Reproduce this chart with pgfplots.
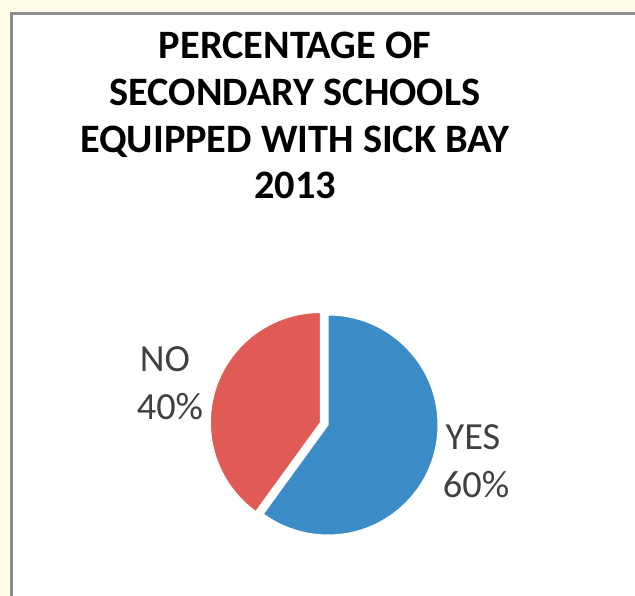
\documentclass[border=0pt]{standalone}
\usepackage{fontspec}
\setmainfont{Carlito}
\usepackage{pgfplots}
\usepackage{pgfplotstable}
\pgfplotsset{compat=1.18}
\definecolor{bgcream}{HTML}{FFFDE8}
\definecolor{framegray}{HTML}{8C8C8C}
\definecolor{pieblue}{HTML}{3A8BC6}
\definecolor{piered}{HTML}{E05B55}
\definecolor{labelgray}{HTML}{404040}
\pgfplotstableread{
label value
YES 60
NO 40
}\piedata
\begin{document}
\begin{tikzpicture}
\pgfplotstablegetelem{0}{value}\of\piedata
\pgfmathsetmacro{\yesend}{90-3.6*\pgfplotsretval}
\pgfplotstablegetelem{1}{value}\of\piedata
\pgfmathsetmacro{\nospan}{3.6*\pgfplotsretval}
\pgfmathsetmacro{\nomid}{90+\nospan/2}
\begin{axis}[hide axis, scale only axis, width=635bp, height=596bp,
  xmin=0, xmax=635, ymin=0, ymax=596, clip=false, at={(0,0)}, anchor=south west]
\fill[bgcream] (axis cs:-5,-5) rectangle (axis cs:640,601);
\fill[white] (axis cs:11,-5) rectangle (axis cs:640,582.5);
\draw[framegray, line width=3bp] (axis cs:11,-10) -- (axis cs:11,582.5) -- (axis cs:650,582.5);
% title
\node[anchor=base, font=\fontsize{40.5}{48}\selectfont\bfseries] at (axis cs:295,537) {PERCENTAGE OF};
\node[anchor=base, font=\fontsize{40.5}{48}\selectfont\bfseries] at (axis cs:295,490.3) {SECONDARY SCHOOLS};
\node[anchor=base, font=\fontsize{40.5}{48}\selectfont\bfseries] at (axis cs:295,443.6) {EQUIPPED WITH SICK BAY};
\node[anchor=base, font=\fontsize{40.5}{48}\selectfont\bfseries] at (axis cs:295,397) {2013};
% pie: YES slice
\fill[pieblue, draw=white, line width=1bp] (axis cs:328,171) -- ++(90:110bp)
   arc[start angle=90, end angle=\yesend, radius=110bp] -- cycle;
% NO slice (exploded)
\fill[piered, draw=white, line width=1bp] (axis cs:328,171) ++(\nomid:8bp) -- ++(90:110bp)
   arc[start angle=90, end angle=90+\nospan, radius=110bp] -- cycle;
% labels
\node[anchor=base, text=labelgray, font=\fontsize{38.5}{46}\selectfont] at (axis cs:165,224) {NO};
\node[anchor=base, text=labelgray, font=\fontsize{38.5}{46}\selectfont] at (axis cs:170,176) {40\%};
\node[anchor=base, text=labelgray, font=\fontsize{38.5}{46}\selectfont] at (axis cs:473,146) {YES};
\node[anchor=base, text=labelgray, font=\fontsize{38.5}{46}\selectfont] at (axis cs:476,98) {60\%};
\end{axis}
\pgfresetboundingbox
\path[use as bounding box] (0,0) rectangle (635bp,596bp);
\end{tikzpicture}
\end{document}
